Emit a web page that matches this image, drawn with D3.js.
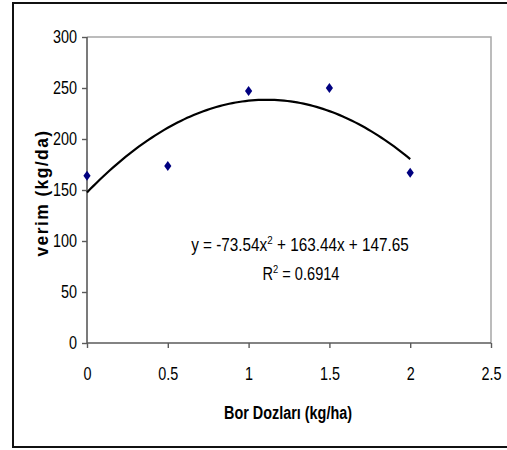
<!DOCTYPE html>
<html><head><meta charset="utf-8">
<script src="https://cdn.jsdelivr.net/npm/d3@7"></script>
<style>
html,body{margin:0;padding:0;background:#fff;}
svg{display:block;}
text{font-family:"Liberation Sans",Arial,sans-serif;}
</style></head>
<body>
<svg id="chart" width="507" height="450"></svg>
<script>
const doses = [0, 0.5, 1, 1.5, 2];
const yieldValues = [164, 173.5, 247, 250, 167];
const xTicks = [0, 0.5, 1, 1.5, 2, 2.5];
const yTicks = [0, 50, 100, 150, 200, 250, 300];
const trendCoef = [-73.54, 163.44, 147.65];
const xTitle = "Bor Dozları (kg/ha)";
const yTitle = "verim  (kg/da)";
const r2Text = "0.6914";

const svg = d3.select("#chart");
const L = 87, T = 37, R = 491, B = 343;
const x = d3.scaleLinear().domain([0, 2.5]).range([L, R]);
const y = d3.scaleLinear().domain([0, 300]).range([B, T]);

function squeeze(sel, f) {
  sel.each(function () {
    const len = this.getComputedTextLength();
    d3.select(this).attr("textLength", len * f).attr("lengthAdjust", "spacingAndGlyphs");
  });
}

// outer frame
svg.append("rect").attr("x", 13).attr("y", 3).attr("width", 520).attr("height", 444)
  .attr("fill", "none").attr("stroke", "#111").attr("stroke-width", 2);

// plot border (top/right)
svg.append("path").attr("d", `M${L},${T}H${R}V${B}`).attr("fill", "none")
  .attr("stroke", "#a6a6a6").attr("stroke-width", 1.5);

// axes
const xAxis = d3.axisBottom(x).tickValues(xTicks).tickSize(5).tickPadding(19)
  .tickFormat(d => String(d));
const gx = svg.append("g").attr("transform", `translate(0,${B})`).call(xAxis);
const yAxis = d3.axisLeft(y).tickValues(yTicks).tickSize(5).tickPadding(5)
  .tickFormat(d => String(d));
const gy = svg.append("g").attr("transform", `translate(${L},0)`).call(yAxis);
[gx, gy].forEach(g => {
  g.select(".domain").attr("stroke", "#5a5a5a").attr("stroke-width", 1.6);
  g.selectAll(".tick line").attr("stroke", "#5a5a5a").attr("stroke-width", 1.4);
  g.selectAll(".tick text").attr("fill", "#000").style("font-size", "18px")
    .style("font-family", '"Liberation Sans",Arial,sans-serif');
  squeeze(g.selectAll(".tick text"), 0.8);
});
gx.select(".domain").attr("d", `M${L},0H${R}`);
gy.select(".domain").attr("d", `M0,${B}V${T}`);

// trendline
const poly = t => trendCoef[0] * t * t + trendCoef[1] * t + trendCoef[2];
const tPts = d3.range(0, 2.0001, 0.02);
svg.append("path").datum(tPts)
  .attr("d", d3.line().x(d => x(d)).y(d => y(poly(d))))
  .attr("fill", "none").attr("stroke", "#000").attr("stroke-width", 2.2);

// points
svg.selectAll(".pt").data(doses).enter().append("path")
  .attr("class", "pt")
  .attr("transform", (d, i) => `translate(${x(d)},${y(yieldValues[i])})`)
  .attr("d", "M0,-5L3.6,0L0,5L-3.6,0Z")
  .attr("fill", "#000080");

// equation (built left-aligned, squeezed per tspan)
function richText(xc, yb, parts, f) {
  const t = svg.append("text").attr("x", 0).attr("y", yb).style("font-size", "18px");
  let cx = 0;
  const nodes = [];
  parts.forEach(p => {
    const s = t.append("tspan").text(p.s);
    if (p.sup) s.style("font-size", "11.5px");
    nodes.push({ s, p });
  });
  nodes.forEach(({ s, p }) => {
    const len = s.node().getComputedTextLength() * f;
    s.attr("x", cx).attr("y", p.sup ? yb - 7.5 : yb)
      .attr("textLength", len).attr("lengthAdjust", "spacingAndGlyphs");
    cx += len;
  });
  t.attr("transform", `translate(${xc - cx / 2},0)`);
  return t;
}
richText(300, 251, [
  { s: `y = ${trendCoef[0]}x` }, { s: "2", sup: true },
  { s: ` + ${trendCoef[1]}x + ${trendCoef[2]}` }
], 0.85);
richText(301, 280, [{ s: "R" }, { s: "2", sup: true }, { s: ` = ${r2Text}` }], 0.81);

// titles
const xt = svg.append("text").attr("x", 288).attr("y", 419).attr("text-anchor", "middle")
  .style("font-size", "18px").style("font-weight", "bold").text(xTitle);
squeeze(xt, 0.8);
const yt = svg.append("text").attr("transform", "translate(48,193) rotate(-90)")
  .attr("text-anchor", "middle").style("font-size", "18px").style("font-weight", "bold")
  .style("letter-spacing", "1.5px").text(yTitle);
yt.attr("textLength", 127).attr("lengthAdjust", "spacingAndGlyphs");
</script>
</body></html>
